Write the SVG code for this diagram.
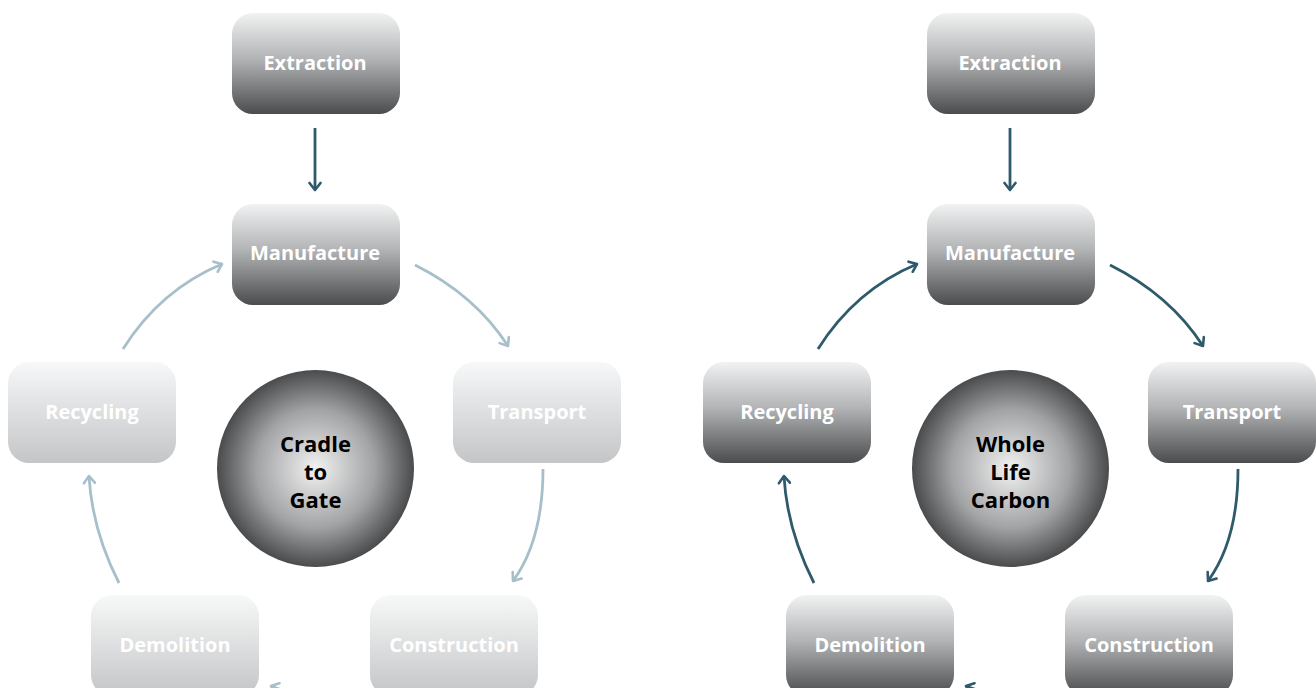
<svg xmlns="http://www.w3.org/2000/svg" width="1316" height="688" viewBox="0 0 1316 688">
<defs>
<linearGradient id="gDark" x1="0" y1="0" x2="0" y2="1">
<stop offset="0" stop-color="#f1f2f2"/>
<stop offset="0.45" stop-color="#b3b4b6"/>
<stop offset="1" stop-color="#4b4c4e"/>
</linearGradient>
<linearGradient id="gLight" x1="0" y1="0" x2="0" y2="1">
<stop offset="0" stop-color="#f7f8f8"/>
<stop offset="1" stop-color="#c4c5c7"/>
</linearGradient>
<radialGradient id="gCircle" cx="0.5" cy="0.5" r="0.5">
<stop offset="0" stop-color="#f2f2f2"/>
<stop offset="0.6" stop-color="#a2a3a5"/>
<stop offset="1" stop-color="#4a4b4d"/>
</radialGradient>
<marker id="aDark" viewBox="-9 -7 11 14" refX="0" refY="0" markerWidth="11" markerHeight="14" markerUnits="userSpaceOnUse" orient="auto">
<path d="M-7,-5.5 L0,0 L-7,5.5" fill="none" stroke="#2f5a6b" stroke-width="2.6" stroke-linecap="round" stroke-linejoin="round"/>
</marker>
<marker id="aLight" viewBox="-9 -7 11 14" refX="0" refY="0" markerWidth="11" markerHeight="14" markerUnits="userSpaceOnUse" orient="auto">
<path d="M-7,-5.5 L0,0 L-7,5.5" fill="none" stroke="#a6bfca" stroke-width="2.6" stroke-linecap="round" stroke-linejoin="round"/>
</marker>
</defs>
<style>
.dark{fill:url(#gDark)}
.light{fill:url(#gLight)}
.lbl{font-family:"Open Sans","Noto Sans","DejaVu Sans",sans-serif;font-weight:bold;font-size:20px;fill:#ffffff;text-anchor:middle}
.ctr{font-family:"Open Sans","Noto Sans","DejaVu Sans",sans-serif;font-weight:bold;font-size:22px;fill:#000000;text-anchor:middle}
.cd{fill:none;stroke:#2f5a6b;stroke-width:2.8;marker-end:url(#aDark)}
.cl{fill:none;stroke:#a6bfca;stroke-width:2.8;marker-end:url(#aLight)}
</style>
<rect width="1316" height="688" fill="#ffffff"/>
<g id="connectors">
<path class="cd" d="M315,128 L315,190"/>
<path class="cl" d="M123,349 Q160,290 222,264"/>
<path class="cl" d="M415,265 Q475,295 508,346"/>
<path class="cl" d="M543,469 Q543,540 513,581"/>
<path class="cl" d="M119,583 Q92,530 89,476"/>
<path class="cl" d="M355,720 Q310,700 271,686"/>
<path class="cd" d="M1010,128 L1010,190"/>
<path class="cd" d="M818,349 Q855,290 917,264"/>
<path class="cd" d="M1110,265 Q1170,295 1203,346"/>
<path class="cd" d="M1238,469 Q1238,540 1208,581"/>
<path class="cd" d="M814,583 Q787,530 784,476"/>
<path class="cd" d="M1050,720 Q1005,700 966,686"/>
</g>
<g id="l-extraction"><rect class="dark" x="232" y="13" width="168" height="101" rx="21"/><text class="lbl" x="315" y="70">Extraction</text></g>
<g id="l-manufacture"><rect class="dark" x="232" y="204" width="168" height="101" rx="21"/><text class="lbl" x="315" y="260">Manufacture</text></g>
<g id="l-transport"><rect class="light" x="453" y="362" width="168" height="101" rx="21"/><text class="lbl" x="537" y="419">Transport</text></g>
<g id="l-recycling"><rect class="light" x="8" y="362" width="168" height="101" rx="21"/><text class="lbl" x="92" y="419">Recycling</text></g>
<g id="l-demolition"><rect class="light" x="91" y="595" width="168" height="101" rx="21"/><text class="lbl" x="175" y="652">Demolition</text></g>
<g id="l-construction"><rect class="light" x="370" y="595" width="168" height="101" rx="21"/><text class="lbl" x="454" y="652">Construction</text></g>
<g id="l-center"><circle cx="315.5" cy="468.5" r="98.5" fill="url(#gCircle)"/><text class="ctr" x="315.5" y="452">Cradle</text><text class="ctr" x="315.5" y="480">to</text><text class="ctr" x="315.5" y="508">Gate</text></g>
<g id="r-extraction"><rect class="dark" x="927" y="13" width="168" height="101" rx="21"/><text class="lbl" x="1010" y="70">Extraction</text></g>
<g id="r-manufacture"><rect class="dark" x="927" y="204" width="168" height="101" rx="21"/><text class="lbl" x="1010" y="260">Manufacture</text></g>
<g id="r-transport"><rect class="dark" x="1148" y="362" width="168" height="101" rx="21"/><text class="lbl" x="1232" y="419">Transport</text></g>
<g id="r-recycling"><rect class="dark" x="703" y="362" width="168" height="101" rx="21"/><text class="lbl" x="787" y="419">Recycling</text></g>
<g id="r-demolition"><rect class="dark" x="786" y="595" width="168" height="101" rx="21"/><text class="lbl" x="870" y="652">Demolition</text></g>
<g id="r-construction"><rect class="dark" x="1065" y="595" width="168" height="101" rx="21"/><text class="lbl" x="1149" y="652">Construction</text></g>
<g id="r-center"><circle cx="1010.5" cy="468.5" r="98.5" fill="url(#gCircle)"/><text class="ctr" x="1010.5" y="452">Whole</text><text class="ctr" x="1010.5" y="480">Life</text><text class="ctr" x="1010.5" y="508">Carbon</text></g>
</svg>
